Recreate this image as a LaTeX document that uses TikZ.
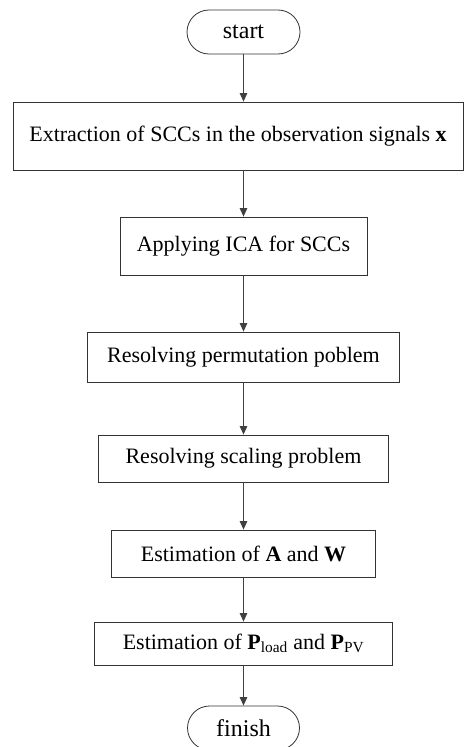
\documentclass[tikz,border=0pt]{standalone}
\usepackage{fontspec}
\setmainfont{Liberation Serif}
\usetikzlibrary{arrows.meta,shapes.misc}
\begin{document}
\begin{tikzpicture}[x=1pt,y=-1pt,
  every node/.style={font=\fontsize{22}{26}\selectfont, inner sep=0pt},
  procbox/.style={draw=black!80, line width=0.8pt, rectangle},
  term/.style={draw=black!80, line width=0.8pt, rounded rectangle, minimum width=113pt, minimum height=44pt, font=\fontsize{24}{28}\selectfont},
  flow/.style={draw=black!75, line width=0.9pt, -{Triangle[width=7.5pt,length=8.5pt]}}]
\useasboundingbox (0,0) rectangle (465,747);
\clip (0,0) rectangle (465,747);
\node[term] (start) at (243.5,32) {start};
\node[procbox, minimum width=450pt, minimum height=68pt] (b1) at (238,136) {Extraction of SCCs in the observation signals \textbf{x}};
\node[procbox, minimum width=247pt, minimum height=58pt] (b2) at (243.5,246) {Applying ICA for SCCs};
\node[procbox, minimum width=312pt, minimum height=50pt] (b3) at (243.5,357) {Resolving permutation poblem};
\node[procbox, minimum width=290pt, minimum height=47pt] (b4) at (243.5,458.5) {Resolving scaling problem};
\node[procbox, minimum width=264pt, minimum height=47pt] (b5) at (243.5,553.5) {Estimation of \textbf{A} and \textbf{W}};
\node[procbox, minimum width=298pt, minimum height=43pt] (b6) at (243.5,643.5) {Estimation of \textbf{P}\textsubscript{load} and \textbf{P}\textsubscript{PV}};
\node[term, minimum width=112pt] (finish) at (243.5,728) {finish};
\draw[flow] (start.south) -- (start.south |- b1.north);
\draw[flow] (start.south |- b1.south) -- (b2.north);
\draw[flow] (b2.south) -- (b3.north);
\draw[flow] (b3.south) -- (b4.north);
\draw[flow] (b4.south) -- (b5.north);
\draw[flow] (b5.south) -- (b6.north);
\draw[flow] (b6.south) -- (finish.north);
\end{tikzpicture}
\end{document}
